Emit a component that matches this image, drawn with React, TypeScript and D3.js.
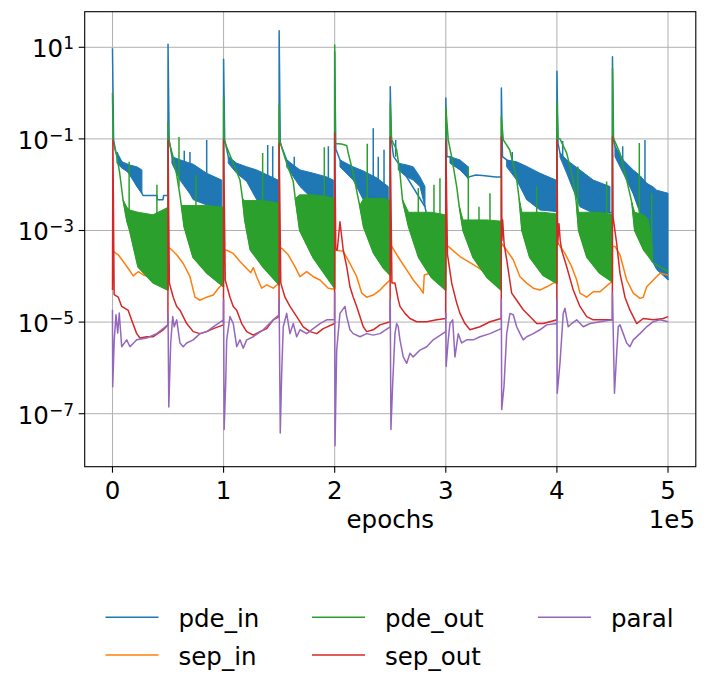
import React from 'react';
import * as d3 from 'd3';

type P = [number, number];
type B = [number, number, number];

const xTicks = [0, 100000, 200000, 300000, 400000, 500000];
const xTickLabels = ['0', '1', '2', '3', '4', '5'];
const yTicks = [1e1, 1e-1, 1e-3, 1e-5, 1e-7];
const yTickExps = ['1', '\u22121', '\u22123', '\u22125', '\u22127'];
const seriesNames = ['pde_in', 'sep_in', 'pde_out', 'sep_out', 'paral'];
const seriesColors = ['#1f77b4', '#ff7f0e', '#2ca02c', '#d62728', '#9467bd'];
const xLabel = 'epochs';
const xOffsetLabel = '1e5';

// ---------- pde_in (blue) ----------
const pdeInLine: P[] = [
  [0, 9.5], [1000, 0.095], [3000, 0.052], [4000, 0.045], [26500, 0.0065], [27500, 0.0058], [40000, 0.0058], [40500, 0.0047], [45500, 0.0047], [46000, 0.0058], [49900, 0.0058],
  [50000, 11.7], [51000, 0.095], [53500, 0.041], [98300, 0.0028], [99900, 0.003],
  [100000, 5.5], [101000, 0.095], [104200, 0.041], [149000, 0.0036], [149900, 0.004],
  [150000, 22.9], [151000, 0.08], [156800, 0.0347], [198700, 0.0033], [199900, 0.0035],
  [200000, 8], [201000, 0.06], [204750, 0.0347], [248200, 0.0024], [249900, 0.0025],
  [250000, 1.38], [251000, 0.095], [253000, 0.041], [257200, 0.0295], [281250, 0.0033], [282800, 0.0022], [292000, 0.0021], [299900, 0.002],
  [300000, 0.78], [301000, 0.041], [303750, 0.041], [320200, 0.0138], [321000, 0.0148], [327000, 0.0162], [333000, 0.0158], [345000, 0.0148], [349900, 0.0148],
  [350000, 1.29], [351000, 0.041], [354800, 0.0347], [399150, 0.0026], [399900, 0.0027],
  [400000, 3.0], [401000, 0.08], [402750, 0.049], [447750, 0.0024], [449900, 0.0025],
  [450000, 6.2], [451000, 0.095], [452250, 0.069], [500000, 0.000083],
];
const pdeInBand: B[][] = [
  [[4000, 0.0295, 0.052], [8500, 0.023, 0.0316], [15500, 0.0178, 0.027], [22000, 0.0091, 0.0245], [26500, 0.0065, 0.021]],
  [[53500, 0.0295, 0.041], [60750, 0.0126, 0.035], [69750, 0.0063, 0.0295], [72700, 0.0047, 0.028], [84800, 0.0036, 0.0178], [98300, 0.0028, 0.0126]],
  [[104200, 0.0295, 0.041], [111800, 0.0178, 0.0295], [120800, 0.0117, 0.0245], [129800, 0.0047, 0.021], [138800, 0.0036, 0.0166], [149000, 0.0036, 0.0126]],
  [[156800, 0.0245, 0.0347], [168750, 0.0091, 0.021], [180700, 0.0047, 0.0178], [192800, 0.0036, 0.0148], [198700, 0.0033, 0.0126]],
  [[204750, 0.0245, 0.0347], [216700, 0.0126, 0.0245], [225700, 0.0047, 0.02], [237800, 0.0028, 0.0141], [248200, 0.0024, 0.0091]],
  [[257200, 0.021, 0.0295], [264800, 0.0148, 0.027], [270700, 0.0126, 0.0245], [276750, 0.0091, 0.0148], [281250, 0.0033, 0.0091]],
  [[303750, 0.0295, 0.041], [312750, 0.021, 0.0347], [320200, 0.0138, 0.0245]],
  [[354800, 0.0245, 0.0347], [363800, 0.0126, 0.0316], [372800, 0.0047, 0.0251], [384750, 0.0028, 0.0178], [399150, 0.0026, 0.0126]],
  [[402750, 0.04, 0.049], [408800, 0.0178, 0.0347], [420750, 0.0033, 0.021], [432700, 0.0024, 0.0126], [447750, 0.0024, 0.0091]],
  [[452250, 0.041, 0.069], [459700, 0.0178, 0.0347], [468700, 0.0063, 0.021], [474750, 0.0024, 0.0158], [481000, 0.00052, 0.0107], [486700, 0.000195, 0.0089], [489800, 0.00014, 0.0076], [500000, 0.000083, 0.0065]],
];
const pdeInSpikes: B[] = [
  [64600, 0.03, 0.055], [69750, 0.028, 0.052], [84800, 0.018, 0.095],
  [139700, 0.016, 0.074], [144200, 0.014, 0.069],
  [163600, 0.025, 0.041], [194300, 0.014, 0.069],
  [234700, 0.013, 0.17], [239200, 0.012, 0.041], [244400, 0.01, 0.058],
  [254900, 0.041, 0.095],
  [359800, 0.03, 0.052],
  [405200, 0.035, 0.09],
  [459200, 0.03, 0.069], [479250, 0.01, 0.095],
];

// ---------- sep_in (orange) ----------
const sepInLine: P[] = [
  [0, 3.5e-4], [700, 3.5e-4], [5200, 2.95e-4], [9700, 2.1e-4], [14200, 1.48e-4], [18700, 1.02e-4], [23200, 1.26e-4], [27700, 1.07e-4], [38000, 9e-5], [49900, 8e-5],
  [50000, 4.1e-4], [51750, 4.1e-4], [57800, 2.95e-4], [63700, 1.9e-4], [69750, 9.8e-5], [74250, 3.5e-5], [78750, 3.0e-5], [84800, 3.5e-5], [90700, 3.9e-5], [95200, 5.4e-5], [99900, 7.1e-5],
  [100000, 3.7e-4], [102800, 3.7e-4], [108700, 3.16e-4], [114750, 2.1e-4], [120800, 1.48e-4], [124500, 1.2e-4], [126700, 1.55e-4], [129800, 9.8e-5], [134300, 5.5e-5], [138800, 6.5e-5], [144700, 5.5e-5], [149900, 7.1e-5],
  [150000, 4.1e-4], [152300, 4.1e-4], [158200, 2.95e-4], [164250, 1.62e-4], [168750, 9.8e-5], [174800, 1.26e-4], [180700, 9.8e-5], [186750, 8.3e-5], [194200, 5.5e-5], [199900, 5.2e-5],
  [200000, 3.7e-4], [201800, 3.7e-4], [207700, 3.5e-4], [213750, 1.9e-4], [219800, 9.8e-5], [224300, 4.3e-5], [228800, 3.5e-5], [234700, 3.9e-5], [240750, 5.0e-5], [246800, 7.1e-5], [249900, 8.3e-5],
  [250000, 4.5e-4], [251300, 4.5e-4], [258750, 2.3e-4], [264800, 1.38e-4], [270700, 8.3e-5], [276750, 5.5e-5], [279700, 4.3e-5], [280600, 1.07e-4], [285750, 1.17e-4], [297700, 1.17e-4], [299900, 1.15e-4],
  [300000, 4.5e-4], [302200, 4.5e-4], [312750, 2.7e-4], [327800, 1.62e-4], [338000, 1.1e-4], [349900, 1.05e-4],
  [350000, 5.2e-4], [350300, 5.2e-4], [354800, 3.7e-4], [360700, 2.3e-4], [366750, 9.8e-5], [372800, 7.1e-5], [378700, 5.5e-5], [384750, 5.0e-5], [390800, 5.9e-5], [396700, 7.1e-5], [399900, 7.5e-5],
  [400000, 5.2e-4], [401200, 5.2e-4], [407250, 3.16e-4], [413300, 1.62e-4], [417800, 8.3e-5], [420750, 4.3e-5], [426800, 3.5e-5], [432700, 4.6e-5], [438750, 4.6e-5], [447750, 7.1e-5], [449900, 7.5e-5],
  [450000, 4.5e-4], [452250, 4.5e-4], [456750, 2.95e-4], [462800, 8.3e-5], [468700, 4.3e-5], [474750, 3.3e-5], [477700, 3.5e-5], [480800, 5.9e-5], [486700, 8.3e-5], [492750, 1.17e-4], [500000, 1.07e-4],
];

// ---------- pde_out (green) ----------
const pdeOutLine: P[] = [
  [0, 1.0], [500, 0.1], [1000, 0.079], [4000, 0.041], [6500, 0.0178], [9500, 0.0047], [13000, 0.0016], [15500, 0.001], [23000, 0.00016], [36500, 0.000072], [49900, 0.00005],
  [50000, 0.23], [50500, 0.095], [54500, 0.041], [57500, 0.0178], [60000, 0.0076], [62000, 0.0035], [64500, 0.0012], [72500, 0.00026], [85000, 0.000117], [99900, 0.000059],
  [100000, 0.78], [100500, 0.095], [102800, 0.066], [108700, 0.0295], [114750, 0.0126], [117000, 0.005], [119000, 0.0017], [124000, 0.00038], [135500, 0.00016], [149900, 0.000065],
  [150000, 0.55], [150500, 0.095], [152300, 0.066], [156800, 0.0295], [162700, 0.0117], [164500, 0.005], [168500, 0.001], [180400, 0.00026], [193000, 0.000095], [199900, 0.000055],
  [200000, 11.2], [200500, 0.079], [206000, 0.077], [210800, 0.072], [212200, 0.049], [216700, 0.0178], [220500, 0.006], [222500, 0.0035], [226000, 0.0012], [235000, 0.00032], [244000, 0.00015], [249900, 0.000105],
  [250000, 0.6], [251250, 0.095], [255750, 0.058], [258750, 0.0178], [261000, 0.0047], [266500, 0.0012], [275500, 0.00026], [287000, 0.000095], [299900, 0.00005],
  [300000, 0.5], [302200, 0.095], [305250, 0.041], [309800, 0.0091], [312000, 0.0035], [315500, 0.001], [324500, 0.00026], [337000, 0.000095], [349900, 0.00005],
  [350000, 0.3], [351750, 0.095], [357500, 0.058], [363500, 0.0148], [366000, 0.005], [368500, 0.001], [375500, 0.00026], [387500, 0.000105], [399900, 0.00007],
  [400000, 0.65], [401000, 0.105], [402750, 0.1], [408800, 0.049], [414700, 0.0126], [417500, 0.004], [419500, 0.001], [427000, 0.00026], [438500, 0.000117], [449900, 0.000076],
  [450000, 3.5], [450750, 0.105], [456750, 0.049], [462800, 0.0126], [467500, 0.004], [470000, 0.001], [478000, 0.00038], [487000, 0.000195], [500000, 0.000126],
];
const pdeOutBand: B[][] = [
  [[9500, 0.0047, 0.0047], [13000, 0.0016, 0.0032], [15500, 0.001, 0.0028], [23000, 0.00016, 0.0025], [36500, 0.000072, 0.0022], [49900, 0.00005, 0.0032]],
  [[62000, 0.0035, 0.0035], [64500, 0.0012, 0.0035], [72500, 0.00026, 0.0035], [85000, 0.000117, 0.0035], [99900, 0.000059, 0.0032]],
  [[117000, 0.005, 0.005], [119000, 0.0017, 0.0045], [124000, 0.00038, 0.0045], [135500, 0.00016, 0.0045], [149900, 0.000065, 0.004]],
  [[164500, 0.005, 0.005], [168500, 0.001, 0.006], [180400, 0.00026, 0.006], [193000, 0.000095, 0.0055], [199900, 0.000055, 0.005]],
  [[222500, 0.0035, 0.0035], [226000, 0.0012, 0.005], [235000, 0.00032, 0.005], [244000, 0.00015, 0.005], [249900, 0.000105, 0.0045]],
  [[261000, 0.0047, 0.0047], [266500, 0.0012, 0.0025], [275500, 0.00026, 0.0025], [287000, 0.000095, 0.0025], [299900, 0.00005, 0.0022]],
  [[312000, 0.0035, 0.0035], [315500, 0.001, 0.0017], [324500, 0.00026, 0.0017], [337000, 0.000095, 0.0017], [349900, 0.00005, 0.0016]],
  [[366000, 0.005, 0.005], [368500, 0.001, 0.0025], [375500, 0.00026, 0.0025], [387500, 0.000105, 0.0025], [399900, 0.00007, 0.0023]],
  [[417500, 0.004, 0.004], [419500, 0.001, 0.0025], [427000, 0.00026, 0.0025], [438500, 0.000117, 0.0025], [449900, 0.000076, 0.0022]],
  [[467500, 0.004, 0.004], [470000, 0.001, 0.0025], [478000, 0.00038, 0.0022], [482000, 0.0003, 0.0018], [486000, 0.0002, 0.0004]],
];
const pdeOutSpikes: B[] = [
  [15000, 0.0025, 0.0316], [40000, 0.0022, 0.01],
  [59850, 0.009, 0.11], [75150, 0.003, 0.016],
  [135150, 0.004, 0.049],
  [190650, 0.005, 0.066],
  [229300, 0.004, 0.078],
  [275250, 0.0022, 0.0085], [289350, 0.0022, 0.01], [294750, 0.002, 0.0138],
  [320250, 0.0015, 0.025], [329850, 0.0015, 0.0033], [339750, 0.0015, 0.0065],
  [381800, 0.0022, 0.0091],
  [418850, 0.002, 0.025], [444750, 0.002, 0.0117],
  [474150, 0.002, 0.081], [485250, 0.0003, 0.0065],
];

// ---------- sep_out (red) ----------
const sepOutLine: P[] = [
  [0, 5e-5], [400, 0.095], [1500, 4e-5], [5200, 3.5e-5], [8300, 2.2e-5], [14200, 1.8e-5], [17300, 1.1e-5], [21800, 5.6e-6], [24750, 4.5e-6], [30800, 4.8e-6], [36700, 4.8e-6], [45700, 6.8e-6], [49900, 8.7e-6],
  [50000, 0.095], [51200, 7.1e-5], [54700, 3.5e-5], [57800, 2.2e-5], [60750, 1.82e-5], [66800, 9.3e-6], [72700, 6.2e-6], [78750, 5.6e-6], [84800, 6.2e-6], [90700, 7.2e-6], [99900, 8.7e-6],
  [100000, 0.095], [101500, 8.3e-5], [105750, 3.5e-5], [108700, 2.2e-5], [111800, 1.82e-5], [116300, 9.3e-6], [120800, 6.2e-6], [126700, 5.2e-6], [132750, 6.2e-6], [138800, 7.2e-6], [144700, 1.12e-5], [149900, 1.32e-5],
  [150000, 0.08], [151500, 7.1e-5], [155250, 3.5e-5], [159750, 2.2e-5], [165800, 1.32e-5], [171700, 7.9e-6], [177750, 6.2e-6], [183800, 5.6e-6], [189700, 7.2e-6], [199900, 9.3e-6],
  [200000, 0.135], [201000, 4e-4], [202300, 3.7e-4], [204750, 1.55e-3], [207700, 3.7e-4], [210800, 1.62e-4], [213750, 5.9e-5], [216700, 3.5e-5], [219800, 2.2e-5], [225700, 7.9e-6], [228800, 6.2e-6], [234700, 6.8e-6], [240750, 8.7e-6], [249900, 1.02e-5],
  [250000, 0.11], [251500, 7.1e-5], [254250, 7.1e-5], [257200, 3.1e-5], [258750, 2.2e-5], [263250, 1.55e-5], [267750, 1.2e-5], [273800, 1.02e-5], [282800, 1.02e-5], [291800, 1.12e-5], [299900, 1.2e-5],
  [300000, 0.095], [301500, 3e-4], [305300, 7.1e-5], [309800, 2.6e-5], [312750, 1.55e-5], [317250, 9.3e-6], [321750, 6.8e-6], [330750, 7.9e-6], [339750, 1.02e-5], [349900, 1.2e-5],
  [350000, 0.11], [350500, 6e-4], [351150, 1.7e-3], [352500, 5e-4], [354800, 2.3e-4], [359300, 4.3e-5], [363800, 3.0e-5], [369700, 1.86e-5], [375750, 1.32e-5], [381800, 9.3e-6], [387700, 9.3e-6], [393750, 1.02e-5], [399900, 1.12e-5],
  [400000, 0.095], [400700, 5e-4], [401850, 1.4e-3], [403000, 6e-4], [404300, 3.7e-4], [408800, 1.62e-4], [414700, 5e-5], [420750, 2.2e-5], [426800, 1.32e-5], [432700, 1.12e-5], [438750, 1.12e-5], [449900, 1.12e-5],
  [450000, 0.11], [450500, 2e-3], [453800, 5.2e-4], [456750, 1.17e-4], [461250, 3.5e-5], [465750, 1.82e-5], [471800, 9.3e-6], [477700, 1.2e-5], [486700, 1.12e-5], [495700, 1.2e-5], [500000, 1.32e-5],
];

// ---------- paral (purple) ----------
const paralLine: P[] = [
  [0, 1.86e-5], [200, 3.9e-7], [1600, 4.1e-6], [3150, 1.45e-5], [4700, 5.75e-6], [6100, 1.58e-5], [8300, 2.9e-6], [12800, 4.1e-6], [15750, 2.9e-6], [21800, 4.1e-6], [30800, 4.5e-6], [39800, 5.6e-6], [49900, 8.7e-6],
  [50000, 1.5e-5], [50700, 1.4e-7], [52400, 3.5e-6], [54200, 1.32e-5], [55600, 7.9e-6], [57800, 1.12e-5], [60750, 3.5e-6], [63700, 2.9e-6], [66800, 3.5e-6], [72700, 4.1e-6], [78750, 5.6e-6], [84800, 6.2e-6], [90700, 7.9e-6], [99900, 1.12e-5],
  [100000, 3.1e-5], [100500, 4.5e-8], [101900, 4.6e-7], [102800, 4.1e-6], [105750, 1.32e-5], [108700, 9.3e-6], [111800, 2.9e-6], [114750, 4.1e-6], [117700, 2.7e-6], [120800, 4.1e-6], [126700, 4.8e-6], [135700, 6.8e-6], [144700, 1.12e-5], [149900, 1.45e-5],
  [150000, 3.1e-5], [151000, 3.8e-8], [152300, 7.8e-7], [153700, 7.9e-6], [156800, 1.55e-5], [159750, 5.6e-6], [162700, 9.3e-6], [165800, 4.8e-6], [168750, 6.8e-6], [174800, 5.6e-6], [180700, 7.2e-6], [186750, 9.3e-6], [192800, 1.12e-5], [199900, 1.12e-5],
  [200000, 4.3e-5], [200300, 2.0e-8], [201800, 2.45e-6], [204750, 1.55e-5], [209250, 2.2e-5], [210800, 1.32e-5], [213750, 6.8e-6], [216700, 5.6e-6], [222750, 4.8e-6], [228800, 5.6e-6], [234700, 5.2e-6], [240750, 5.6e-6], [249900, 7.9e-6],
  [250000, 3.1e-5], [250600, 4.5e-8], [252200, 4.6e-7], [254250, 5.6e-6], [255800, 9.3e-6], [257200, 7.9e-6], [258750, 4.1e-6], [261700, 1.74e-6], [264800, 1.26e-6], [267750, 2.1e-6], [270700, 1.74e-6], [276750, 2.45e-6], [282800, 2.9e-6], [288700, 4.1e-6], [299900, 6.2e-6],
  [300000, 1.55e-5], [300300, 1.07e-6], [302200, 4.1e-6], [303750, 9.3e-6], [306200, 1.12e-5], [308250, 1.74e-6], [311200, 5.6e-6], [314250, 3.5e-6], [318800, 4.1e-6], [324700, 4.1e-6], [330750, 4.8e-6], [339750, 5.6e-6], [349900, 7.2e-6],
  [350000, 3.1e-5], [350300, 1.23e-7], [352350, 3.9e-7], [354800, 5.6e-6], [357750, 1.55e-5], [360700, 1.45e-5], [363800, 7.9e-6], [366750, 5.6e-6], [369700, 4.1e-6], [372800, 4.8e-6], [378700, 5.6e-6], [384750, 6.8e-6], [390800, 8.7e-6], [399900, 9.3e-6],
  [400000, 3.1e-5], [400300, 2.8e-7], [402750, 1.26e-6], [405700, 1.55e-5], [407250, 2.0e-5], [410200, 7.9e-6], [413300, 9.3e-6], [417800, 1.12e-5], [423700, 7.9e-6], [429750, 9.3e-6], [438750, 1.02e-5], [449900, 1.12e-5],
  [450000, 4.3e-5], [451800, 2.8e-7], [453800, 2.1e-6], [455200, 7.9e-6], [456750, 8.7e-6], [459700, 5.6e-6], [462800, 3.5e-6], [465750, 2.9e-6], [468700, 4.1e-6], [474750, 5.6e-6], [480800, 7.9e-6], [486700, 1.02e-5], [492750, 1.12e-5], [500000, 1.02e-5],
];

const W = 707;
const H = 693;
const PL = 84.7, PR = 695.8, PT = 11.7, PB = 466.7;
const FONT = "'DejaVu Sans', sans-serif";

export default function App() {
  const x = d3.scaleLinear().domain([-25000, 525000]).range([PL, PR]);
  const y = d3.scaleLog().domain([Math.pow(10, -8.157), Math.pow(10, 1.777)]).range([PB, PT]);

  const line = d3.line<P>().x(d => x(d[0])).y(d => y(d[1]));
  const area = d3.area<B>().x(d => x(d[0])).y0(d => y(d[1])).y1(d => y(d[2]));
  const spikePath = (s: B[]) => s.map(d => `M${x(d[0])},${y(d[1])}V${y(d[2])}`).join('');

  const legendCols = [105.5, 312, 538];
  const legendRows = [617.3, 655];
  const legendOrder = [[0, 0, 0], [1, 0, 1], [2, 1, 0], [3, 1, 1], [4, 2, 0]];

  return (
    <div style={{ position: 'absolute', left: 0, top: 0 }}>
      <svg width={W} height={H} style={{ display: 'block', background: '#fff' }} fontFamily={FONT}>
        <defs>
          <clipPath id="plotclip">
            <rect x={PL} y={PT} width={PR - PL} height={PB - PT} />
          </clipPath>
        </defs>
        {/* grid */}
        <g stroke="#b0b0b0" strokeWidth={1}>
          {xTicks.map(t => <line key={'gx' + t} x1={x(t)} x2={x(t)} y1={PT} y2={PB} />)}
          {yTicks.map(t => <line key={'gy' + t} x1={PL} x2={PR} y1={y(t)} y2={y(t)} />)}
        </g>
        <g clipPath="url(#plotclip)" fill="none" strokeLinejoin="round" strokeLinecap="butt">
          {/* pde_in */}
          {pdeInBand.map((b, i) => <path key={'bb' + i} d={area(b) || ''} fill={seriesColors[0]} stroke={seriesColors[0]} strokeWidth={1} />)}
          <path d={line(pdeInLine) || ''} stroke={seriesColors[0]} strokeWidth={1.5} />
          <path d={spikePath(pdeInSpikes)} stroke={seriesColors[0]} strokeWidth={1.5} />
          {/* sep_in */}
          <path d={line(sepInLine) || ''} stroke={seriesColors[1]} strokeWidth={1.5} />
          {/* pde_out */}
          {pdeOutBand.map((b, i) => <path key={'gb' + i} d={area(b) || ''} fill={seriesColors[2]} stroke={seriesColors[2]} strokeWidth={1} />)}
          <path d={line(pdeOutLine) || ''} stroke={seriesColors[2]} strokeWidth={1.5} />
          <path d={spikePath(pdeOutSpikes)} stroke={seriesColors[2]} strokeWidth={1.5} />
          {/* sep_out */}
          <path d={line(sepOutLine) || ''} stroke={seriesColors[3]} strokeWidth={1.5} />
          {/* paral */}
          <path d={line(paralLine) || ''} stroke={seriesColors[4]} strokeWidth={1.5} />
        </g>
        {/* frame */}
        <rect x={PL} y={PT} width={PR - PL} height={PB - PT} fill="none" stroke="#000" strokeWidth={1.1} />
        {/* x ticks */}
        {xTicks.map((t, i) => (
          <g key={'xt' + t}>
            <line x1={x(t)} x2={x(t)} y1={PB} y2={PB + 6} stroke="#000" strokeWidth={1.1} />
            <text x={x(t)} y={499} textAnchor="middle" fontSize={24.5} fill="#000">{xTickLabels[i]}</text>
          </g>
        ))}
        {/* y ticks */}
        {yTicks.map((t, i) => (
          <g key={'yt' + t}>
            <line x1={PL - 6} x2={PL} y1={y(t)} y2={y(t)} stroke="#000" strokeWidth={1.1} />
            <text x={74} y={y(t) + 10} textAnchor="end" fontSize={24.5} fill="#000">
              10<tspan dy={-8} fontSize={17}>{yTickExps[i]}</tspan>
            </text>
          </g>
        ))}
        <text x={(x(0) + x(500000)) / 2} y={528} textAnchor="middle" fontSize={24.5} fill="#000">{xLabel}</text>
        <text x={695} y={528} textAnchor="end" fontSize={24.5} fill="#000">{xOffsetLabel}</text>
        {/* legend */}
        {legendOrder.map(([si, c, r]) => (
          <g key={'lg' + si}>
            <line x1={legendCols[c]} x2={legendCols[c] + 53} y1={legendRows[r]} y2={legendRows[r]} stroke={seriesColors[si]} strokeWidth={1.5} />
            <text x={legendCols[c] + 73} y={legendRows[r] + 10} fontSize={24.5} fill="#000">{seriesNames[si]}</text>
          </g>
        ))}
      </svg>
    </div>
  );
}
